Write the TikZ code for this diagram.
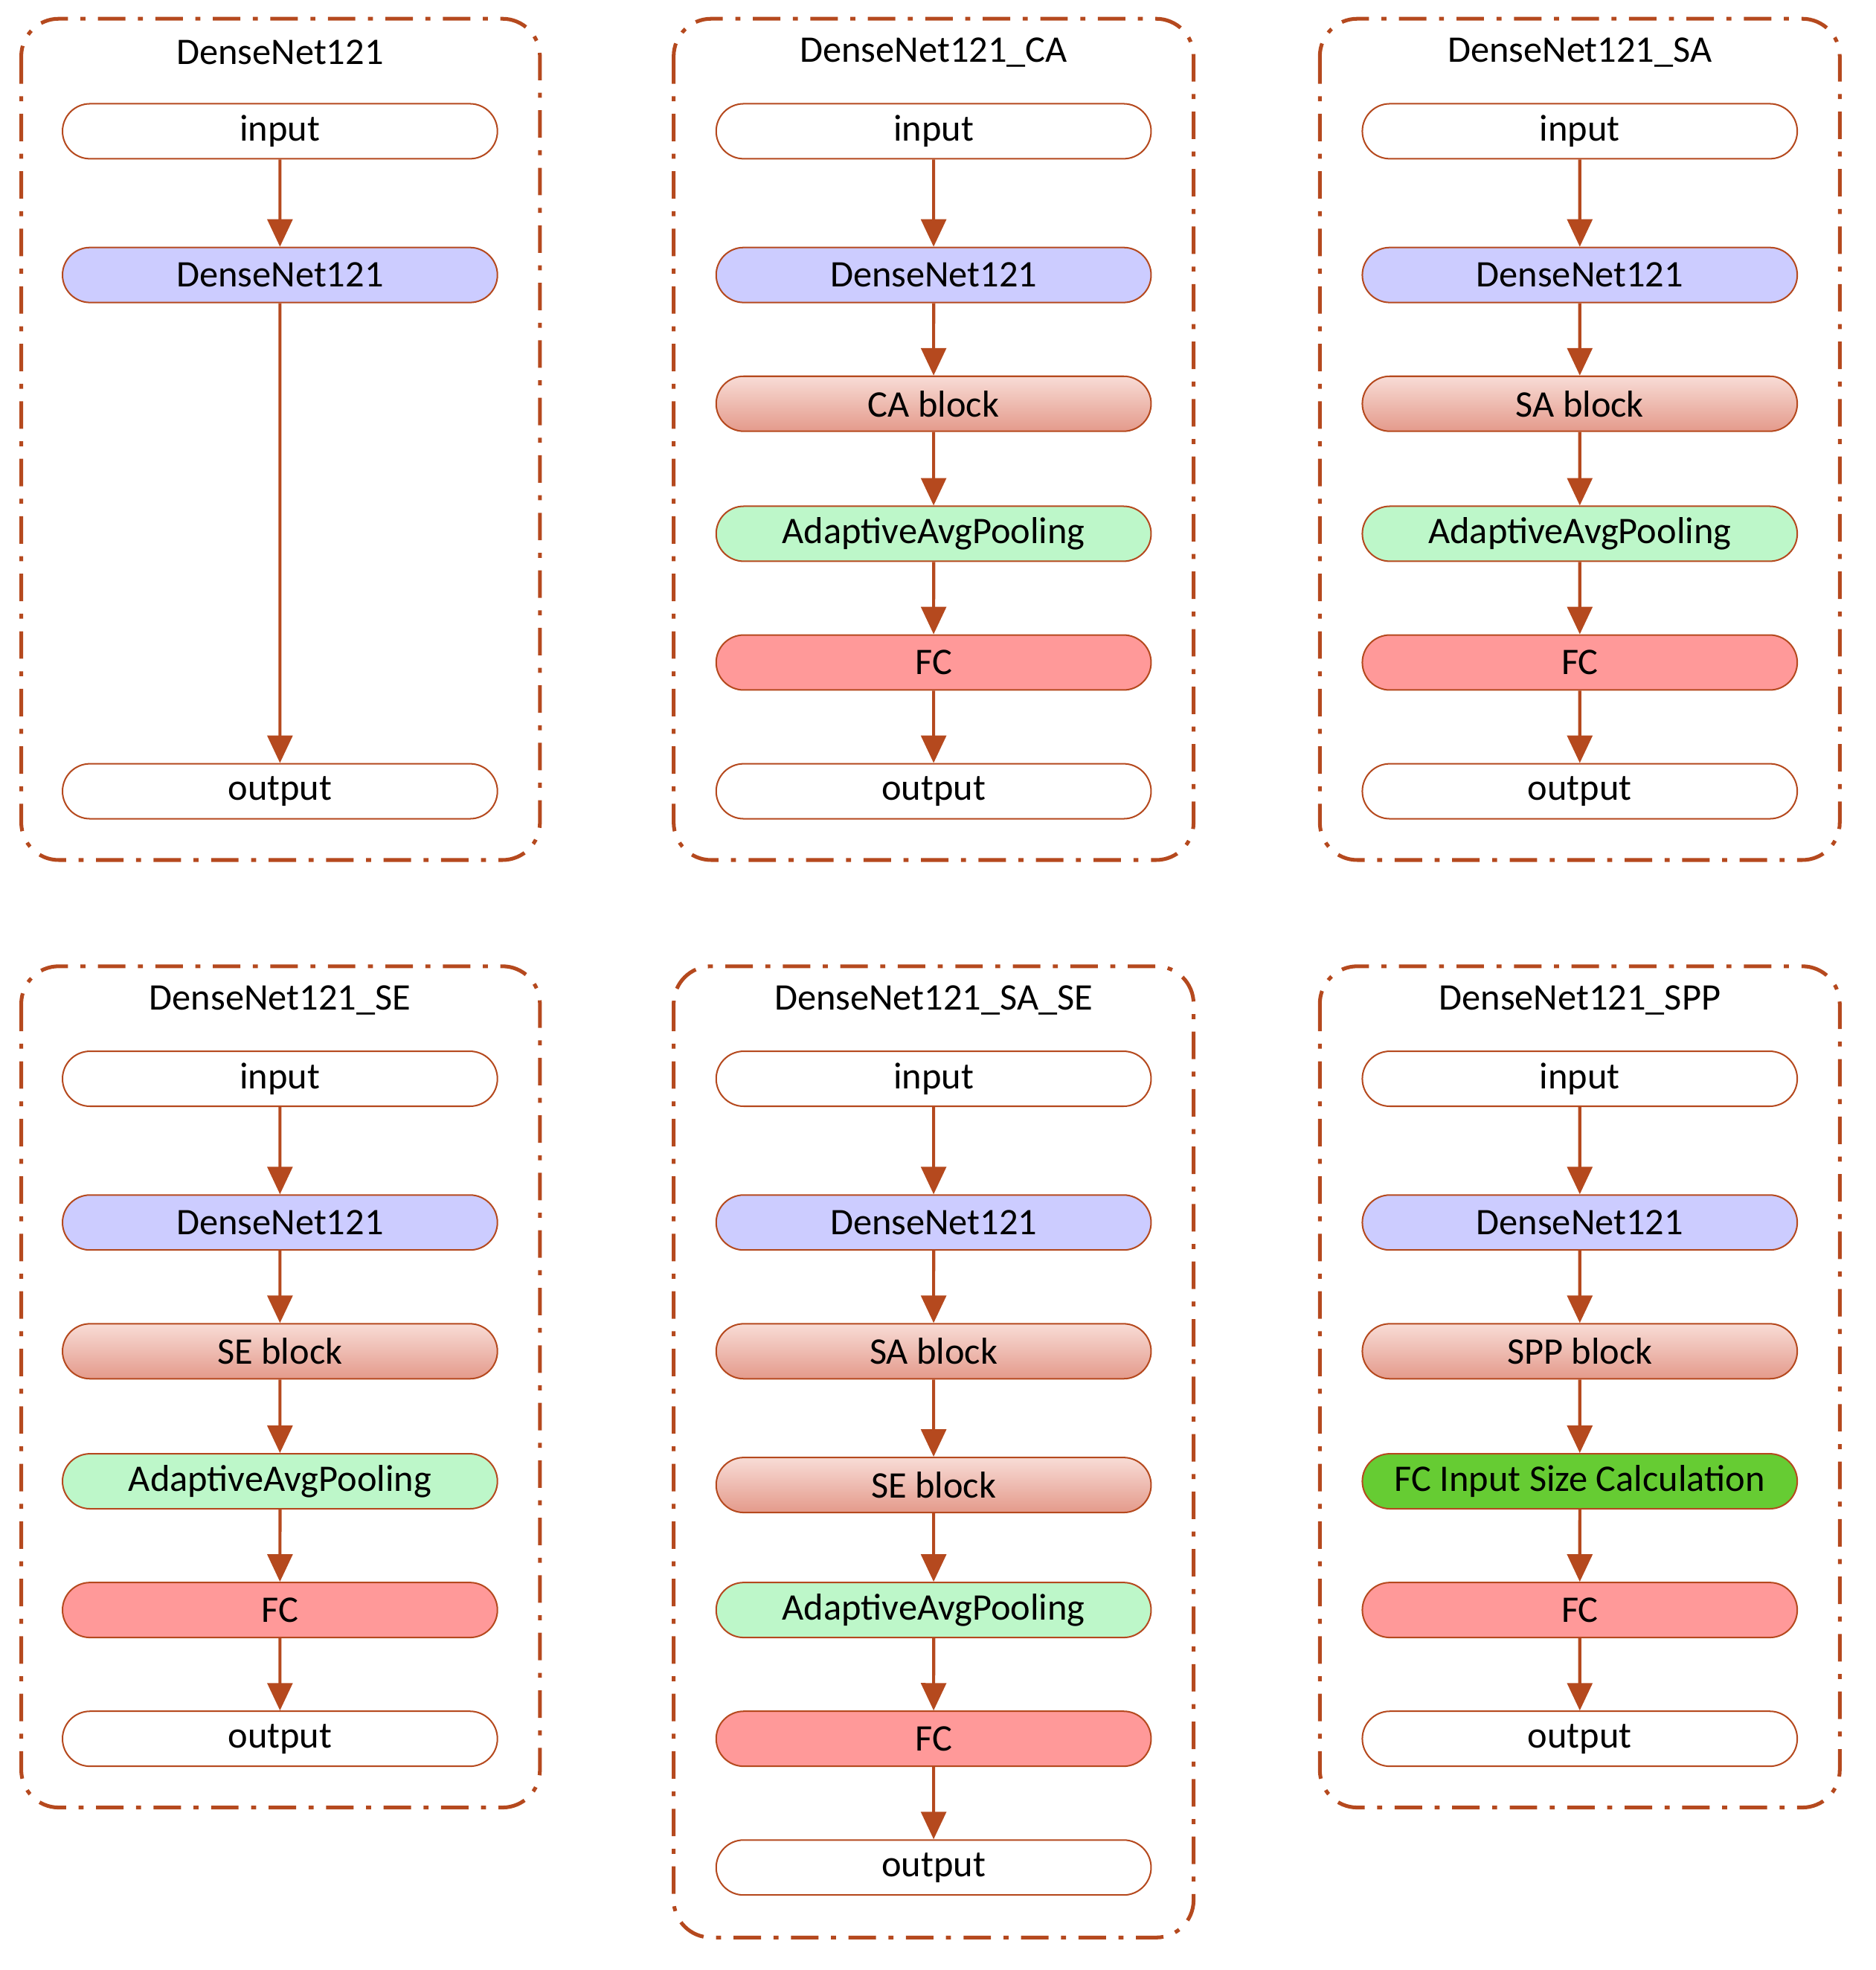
\documentclass[tikz,border=0pt]{standalone}
\usepackage{fontspec}
\setmainfont{Carlito}
\usetikzlibrary{arrows.meta,shapes.misc}
\definecolor{brd}{HTML}{B5491E}
\definecolor{blu}{HTML}{CCCCFF}
\definecolor{grn}{HTML}{BDF7C9}
\definecolor{fcr}{HTML}{FF9999}
\definecolor{bgr}{HTML}{66CC33}
\definecolor{pkt}{HTML}{F8DCD6}
\definecolor{pkb}{HTML}{E49A8B}
\tikzset{
 box/.style={rounded rectangle,draw=brd,line width=1.2pt,minimum width=348pt,minimum height=44pt,inner sep=0pt,font=\fontsize{30}{34}\selectfont},
 io/.style={box,fill=white},
 dn/.style={box,fill=blu},
 blk/.style={box,top color=pkt,bottom color=pkb},
 pool/.style={box,fill=grn},
 fc/.style={box,fill=fcr},
 calc/.style={box,fill=bgr},
 frame/.style={draw=brd,line width=3pt,rounded corners=30pt,dash pattern=on 22pt off 10pt on 4pt off 10pt},
 ttl/.style={font=\fontsize{30}{34}\selectfont},
 ar/.style={draw=brd,line width=2.5pt,-{Triangle[length=22pt,width=20pt]}}
}
\begin{document}
\begin{tikzpicture}[x=1pt,y=-1pt]
\useasboundingbox (0,0) rectangle (1500.6,1576);
% frames
\draw[frame] (17,15) rectangle (432,688);
\draw[frame] (539,15) rectangle (955,688);
\draw[frame] (1056,15) rectangle (1472,688);
\draw[frame] (17,773) rectangle (432,1446);
\draw[frame] (539,773) rectangle (955,1550);
\draw[frame] (1056,773) rectangle (1472,1446);
% column 1
\node[ttl] (t1) at (224,42) {DenseNet121};
\node[io] (a1) at (224,105) {input};
\node[dn] (a2) at (224,220) {DenseNet121};
\node[io] (a3) at (224,633) {output};
\draw[ar] (a1) -- (a2); \draw[ar] (a2) -- (a3);
% column 2
\node[ttl] (t2) at (747,42) {DenseNet121\_CA};
\node[io] (b1) at (747,105) {input};
\node[dn] (b2) at (747,220) {DenseNet121};
\node[blk] (b3) at (747,323) {CA block};
\node[pool] (b4) at (747,427) {AdaptiveAvgPooling};
\node[fc] (b5) at (747,530) {FC};
\node[io] (b6) at (747,633) {output};
\foreach \i/\j in {1/2,2/3,3/4,4/5,5/6} \draw[ar] (b\i) -- (b\j);
% column 3
\node[ttl] (t3) at (1264,42) {DenseNet121\_SA};
\node[io] (c1) at (1264,105) {input};
\node[dn] (c2) at (1264,220) {DenseNet121};
\node[blk] (c3) at (1264,323) {SA block};
\node[pool] (c4) at (1264,427) {AdaptiveAvgPooling};
\node[fc] (c5) at (1264,530) {FC};
\node[io] (c6) at (1264,633) {output};
\foreach \i/\j in {1/2,2/3,3/4,4/5,5/6} \draw[ar] (c\i) -- (c\j);
% row 2 col 1
\node[ttl] (t4) at (224,800) {DenseNet121\_SE};
\node[io] (d1) at (224,863) {input};
\node[dn] (d2) at (224,978) {DenseNet121};
\node[blk] (d3) at (224,1081) {SE block};
\node[pool] (d4) at (224,1185) {AdaptiveAvgPooling};
\node[fc] (d5) at (224,1288) {FC};
\node[io] (d6) at (224,1391) {output};
\foreach \i/\j in {1/2,2/3,3/4,4/5,5/6} \draw[ar] (d\i) -- (d\j);
% row 2 col 2
\node[ttl] (t5) at (747,800) {DenseNet121\_SA\_SE};
\node[io] (e1) at (747,863) {input};
\node[dn] (e2) at (747,978) {DenseNet121};
\node[blk] (e3) at (747,1081) {SA block};
\node[blk] (e4) at (747,1188) {SE block};
\node[pool] (e5) at (747,1288) {AdaptiveAvgPooling};
\node[fc] (e6) at (747,1391) {FC};
\node[io] (e7) at (747,1494) {output};
\foreach \i/\j in {1/2,2/3,3/4,4/5,5/6,6/7} \draw[ar] (e\i) -- (e\j);
% row 2 col 3
\node[ttl] (t6) at (1264,800) {DenseNet121\_SPP};
\node[io] (f1) at (1264,863) {input};
\node[dn] (f2) at (1264,978) {DenseNet121};
\node[blk] (f3) at (1264,1081) {SPP block};
\node[calc] (f4) at (1264,1185) {FC Input Size Calculation};
\node[fc] (f5) at (1264,1288) {FC};
\node[io] (f6) at (1264,1391) {output};
\foreach \i/\j in {1/2,2/3,3/4,4/5,5/6} \draw[ar] (f\i) -- (f\j);
\end{tikzpicture}
\end{document}
